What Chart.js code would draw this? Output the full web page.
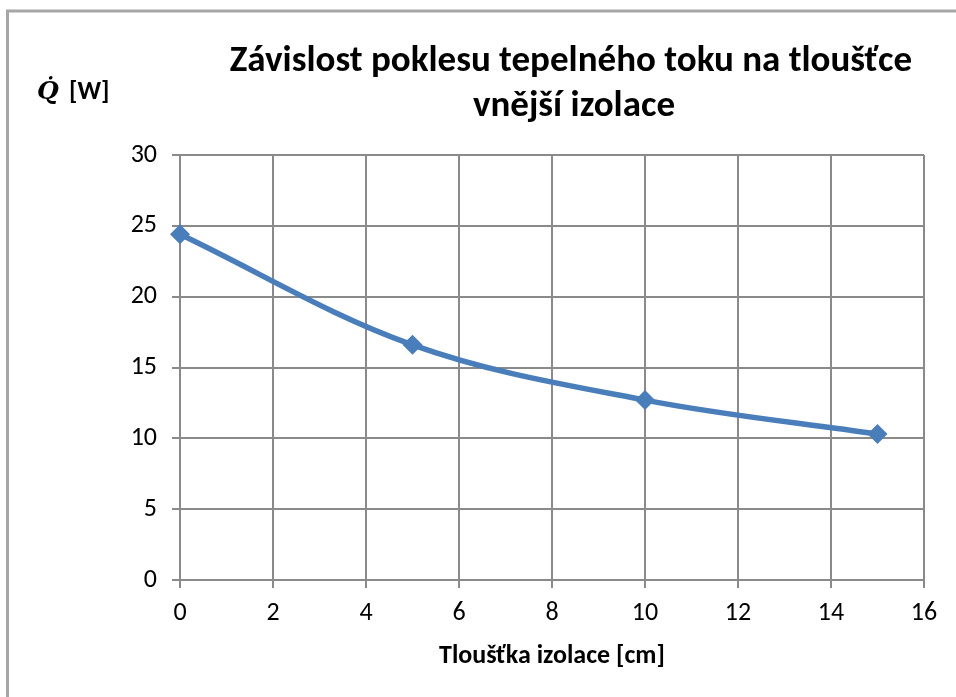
<!DOCTYPE html>
<html>
<head>
<meta charset="utf-8">
<script src="https://cdn.jsdelivr.net/npm/chart.js@4/dist/chart.umd.min.js"></script>
<style>
  html, body { margin: 0; padding: 0; background: #fff; }
  #wrap { width: 956px; height: 697px; position: relative; }
</style>
</head>
<body>
<div id="wrap"><canvas id="c" width="956" height="697"></canvas></div>
<script>
// Tloušťka izolace [cm] a odpovídající tepelný tok [W]
const thickness = [0, 5, 10, 15];
const heatFlow = [24.4, 16.6, 12.7, 10.3];

const titleLines = ['Závislost poklesu tepelného toku na tloušťce', 'vnější izolace'];
const xAxisTitle = 'Tloušťka izolace [cm]';
const yAxisSymbol = 'Q\u0307';
const yAxisUnit = '[W]';

const FONT = 'Carlito, Calibri, "Open Sans", sans-serif';
const GRID = '#8a8a8a';
const LINE = '#4a7ebb';

// Rámeček grafu a popisky (nadpis, názvy os)
const decorations = {
  id: 'decorations',
  beforeDraw(chart) {
    const ctx = chart.ctx;
    ctx.save();
    ctx.fillStyle = '#ffffff';
    ctx.fillRect(0, 0, chart.width, chart.height);
    ctx.strokeStyle = '#a6a6a6';
    ctx.lineWidth = 3;
    ctx.beginPath();
    ctx.moveTo(7.5, chart.height + 5);
    ctx.lineTo(7.5, 11);
    ctx.lineTo(chart.width + 5, 11);
    ctx.stroke();
    ctx.restore();
  },
  afterDraw(chart) {
    const ctx = chart.ctx;
    const area = chart.chartArea;
    ctx.save();
    ctx.fillStyle = '#000';
    ctx.textAlign = 'center';
    ctx.textBaseline = 'middle';
    ctx.font = 'bold 37px ' + FONT;
    ctx.fillText(titleLines[0], 571, 62);
    ctx.fillText(titleLines[1], 574, 107);

    ctx.font = 'bold 26px ' + FONT;
    ctx.fillText(xAxisTitle, (area.left + area.right) / 2, 656);

    ctx.textAlign = 'left';
    ctx.font = 'italic bold 25px "DejaVu Serif", serif';
    ctx.fillText(yAxisSymbol, 37, 92);
    ctx.font = 'bold 26px ' + FONT;
    ctx.fillText(yAxisUnit, 69, 92);
    ctx.restore();
  }
};

new Chart(document.getElementById('c'), {
  type: 'line',
  data: {
    datasets: [{
      data: thickness.map((x, i) => ({ x, y: heatFlow[i] })),
      borderColor: LINE,
      backgroundColor: LINE,
      borderWidth: 5.5,
      tension: 0.35,
      pointStyle: 'rectRot',
      pointRadius: 10,
      pointHoverRadius: 10,
      pointBorderWidth: 0,
      clip: false
    }]
  },
  options: {
    responsive: false,
    animation: false,
    events: [],
    layout: { padding: { top: 155, right: 32, left: 0, bottom: 0 } },
    plugins: { legend: { display: false }, tooltip: { enabled: false }, title: { display: false } },
    scales: {
      x: {
        type: 'linear',
        min: 0, max: 16,
        afterFit(s) { s.height = 117; },
        ticks: { stepSize: 2, color: '#000', padding: 10, font: { family: FONT, size: 26 } },
        grid: { color: GRID, lineWidth: 2, tickLength: 8, drawTicks: true },
        border: { color: GRID, width: 2 }
      },
      y: {
        min: 0, max: 30,
        afterFit(s) { s.width = 180; },
        ticks: { stepSize: 5, color: '#000', padding: 15, font: { family: FONT, size: 26 } },
        grid: { color: GRID, lineWidth: 2, tickLength: 8, drawTicks: true },
        border: { color: GRID, width: 2 }
      }
    }
  },
  plugins: [decorations]
});
</script>
</body>
</html>
